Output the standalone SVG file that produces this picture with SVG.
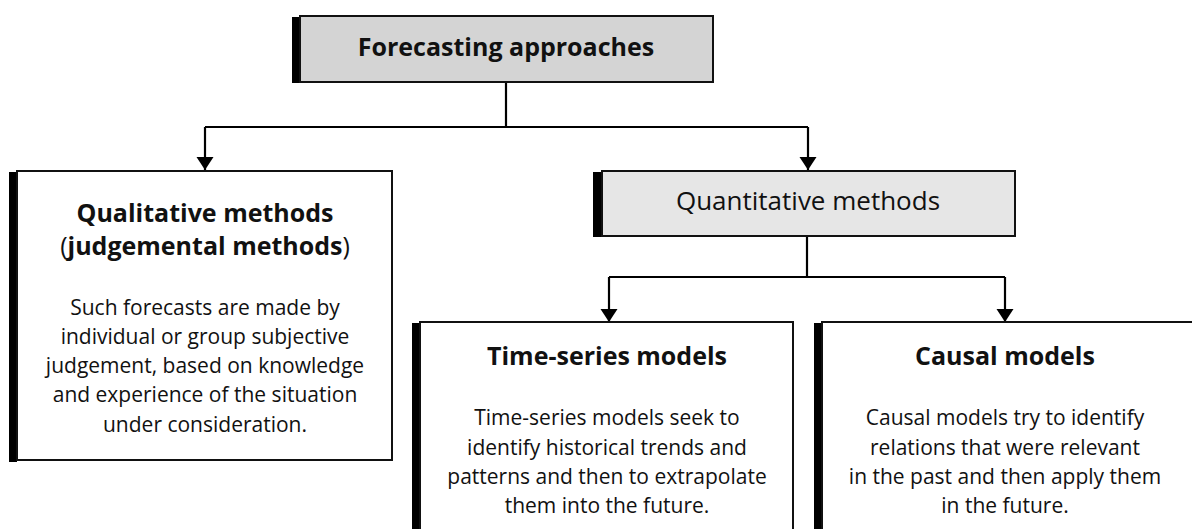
<svg xmlns="http://www.w3.org/2000/svg" width="1192" height="529" viewBox="0 0 1192 529">
<style>
.box{stroke:#111;stroke-width:2;}
.bar{fill:#000;}
.t{font-family:"Open Sans","Liberation Sans",sans-serif;fill:#111;text-anchor:middle;}
.b{font-weight:bold;font-size:25px;}
.body{font-size:21px;}
.conn{fill:none;stroke:#000;stroke-width:2.2;}
</style>
<defs>
<marker id="arr" markerUnits="userSpaceOnUse" markerWidth="14" markerHeight="18" refX="13" refY="8.5" orient="auto">
<path d="M0,0 L13,8.5 L0,17 Z" fill="#000"/>
</marker>
</defs>
<rect width="1192" height="529" fill="#fff"/>
<g id="connectors">
<path class="conn" d="M506,82 V127 M205,127 H808"/>
<path class="conn" d="M205,127 V170" marker-end="url(#arr)"/>
<path class="conn" d="M808,127 V170" marker-end="url(#arr)"/>
<path class="conn" d="M807,236 V277 M609,277 H1005"/>
<path class="conn" d="M609,277 V322" marker-end="url(#arr)"/>
<path class="conn" d="M1005,277 V322" marker-end="url(#arr)"/>
</g>
<g id="forecasting">
<rect class="bar" x="292" y="17" width="8" height="66"/>
<rect class="box" x="300" y="16" width="413" height="66" fill="#d4d4d4"/>
<text class="t b" x="506" y="56">Forecasting approaches</text>
</g>
<g id="qualitative">
<rect class="bar" x="9" y="172" width="8" height="290"/>
<rect class="box" x="17" y="171" width="375" height="289" fill="#fff"/>
<text class="t b" x="205" y="222">Qualitative methods</text>
<text class="t" x="205" y="255" style="font-size:25px">(<tspan font-weight="bold">judgemental methods</tspan>)</text>
<text class="t body" x="205" y="315">Such forecasts are made by</text>
<text class="t body" x="205" y="344">individual or group subjective</text>
<text class="t body" x="205" y="373">judgement, based on knowledge</text>
<text class="t body" x="205" y="402">and experience of the situation</text>
<text class="t body" x="205" y="432">under consideration.</text>
</g>
<g id="quantitative">
<rect class="bar" x="593" y="172" width="9" height="65"/>
<rect class="box" x="602" y="171" width="413" height="65" fill="#e6e6e6"/>
<text class="t" x="808" y="210" style="font-size:26px">Quantitative methods</text>
</g>
<g id="timeseries">
<rect class="bar" x="412" y="323" width="8" height="220"/>
<rect class="box" x="420" y="322" width="373" height="220" fill="#fff"/>
<text class="t b" x="607" y="365">Time-series models</text>
<text class="t body" x="607" y="425">Time-series models seek to</text>
<text class="t body" x="607" y="455">identify historical trends and</text>
<text class="t body" x="607" y="484">patterns and then to extrapolate</text>
<text class="t body" x="607" y="513">them into the future.</text>
</g>
<g id="causal">
<rect class="bar" x="814" y="323" width="8" height="220"/>
<rect class="box" x="822" y="322" width="380" height="220" fill="#fff"/>
<text class="t b" x="1005" y="365">Causal models</text>
<text class="t body" x="1005" y="425">Causal models try to identify</text>
<text class="t body" x="1005" y="455">relations that were relevant</text>
<text class="t body" x="1005" y="484">in the past and then apply them</text>
<text class="t body" x="1005" y="513">in the future.</text>
</g>
</svg>
